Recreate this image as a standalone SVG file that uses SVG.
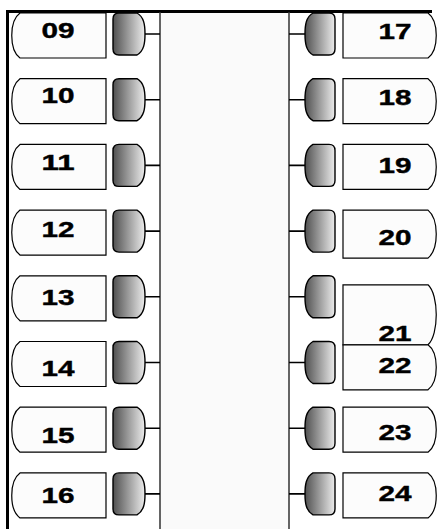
<svg xmlns="http://www.w3.org/2000/svg" width="437" height="529" viewBox="0 0 437 529">
<style>
.lbl{fill:#fcfcfc;stroke:#000;stroke-width:1.2}
.key{fill:url(#g);stroke:#000;stroke-width:1.4}
.conn{stroke:#000;stroke-width:1.6;fill:none}
.vl{stroke:#333;stroke-width:1.5;fill:none}
text{font-family:"Liberation Sans",Arial,sans-serif;font-weight:bold;font-size:21.5px;fill:#000;stroke:#000;stroke-width:0.4;text-anchor:middle}
</style>
<defs>
<linearGradient id="g" x1="0" y1="0" x2="1" y2="0">
<stop offset="0" stop-color="#505050"/>
<stop offset="1" stop-color="#ececec"/>
</linearGradient>
<path id="lb" d="M106 0H20C9 8 9 37 20 45H106Z"/>
<path id="rb" d="M343 0H428C439 8 439 37 428 45H343Z"/>
<path id="lk" d="M119 0H137C144 4 145 12 145 21C145 30 144 38 137 42H119Q113 42 113 36V6Q113 0 119 0Z"/>
<path id="rk" d="M313 0H329Q335 0 335 6V36Q335 42 329 42H313C306 38 305 30 305 21C305 12 306 4 313 0Z"/>
</defs>
<rect x="160" y="12" width="129" height="517" fill="#fafafa"/>
<g id="frame">
<path d="M7.5 529V11.5H432" stroke="#000" stroke-width="3" fill="none"/>
<path class="vl" d="M160 12V529M289 12V529"/>
</g>
<g id="connectors">
<path class="conn" d="M145 34H160M145 99.7H160M145 165.4H160M145 231.1H160M145 296.8H160M145 362.5H160M145 428.2H160M145 493.9H160"/>
<path class="conn" d="M289 34H305M289 99.7H305M289 165.4H305M289 231.1H305M289 296.8H305M289 362.5H305M289 428.2H305M289 493.9H305"/>
</g>
<g id="n09" transform="translate(0,13)"><use href="#lb" class="lbl"/><use href="#lk" class="key"/><text x="58" y="24.5" textLength="33" lengthAdjust="spacingAndGlyphs">09</text></g>
<g id="n10" transform="translate(0,78.7)"><use href="#lb" class="lbl"/><use href="#lk" class="key"/><text x="58" y="24" textLength="33" lengthAdjust="spacingAndGlyphs">10</text></g>
<g id="n11" transform="translate(0,144.4)"><use href="#lb" class="lbl"/><use href="#lk" class="key"/><text x="58" y="26" textLength="33" lengthAdjust="spacingAndGlyphs">11</text></g>
<g id="n12" transform="translate(0,210.1)"><use href="#lb" class="lbl"/><use href="#lk" class="key"/><text x="58" y="27" textLength="33" lengthAdjust="spacingAndGlyphs">12</text></g>
<g id="n13" transform="translate(0,275.8)"><use href="#lb" class="lbl"/><use href="#lk" class="key"/><text x="58" y="29" textLength="33" lengthAdjust="spacingAndGlyphs">13</text></g>
<g id="n14" transform="translate(0,341.5)"><use href="#lb" class="lbl"/><use href="#lk" class="key"/><text x="58" y="34" textLength="33" lengthAdjust="spacingAndGlyphs">14</text></g>
<g id="n15" transform="translate(0,407.2)"><use href="#lb" class="lbl"/><use href="#lk" class="key"/><text x="58" y="36" textLength="33" lengthAdjust="spacingAndGlyphs">15</text></g>
<g id="n16" transform="translate(0,472.9)"><use href="#lb" class="lbl"/><use href="#lk" class="key"/><text x="58" y="30" textLength="33" lengthAdjust="spacingAndGlyphs">16</text></g>
<g id="n17" transform="translate(0,13)"><use href="#rb" class="lbl"/><use href="#rk" class="key"/><text x="395" y="26" textLength="33" lengthAdjust="spacingAndGlyphs">17</text></g>
<g id="n18" transform="translate(0,78.7)"><use href="#rb" class="lbl"/><use href="#rk" class="key"/><text x="395" y="26.5" textLength="33" lengthAdjust="spacingAndGlyphs">18</text></g>
<g id="n19" transform="translate(0,144.4)"><use href="#rb" class="lbl"/><use href="#rk" class="key"/><text x="395" y="29" textLength="33" lengthAdjust="spacingAndGlyphs">19</text></g>
<g id="n20" transform="translate(0,210.1)"><path class="lbl" d="M343 0H428C439 9 439 39 428 48H343Z"/><use href="#rk" class="key"/><text x="395" y="35" textLength="33" lengthAdjust="spacingAndGlyphs">20</text></g>
<g id="n21" transform="translate(0,275.8)"><path class="lbl" d="M343 9H428C439 19 439 59 428 69H343Z"/><use href="#rk" class="key"/><text x="395" y="65" textLength="33" lengthAdjust="spacingAndGlyphs">21</text></g>
<g id="n22" transform="translate(0,344.8)"><use href="#rb" class="lbl"/><use href="#rk" class="key" transform="translate(0,-3.3)"/><text x="395" y="28" textLength="33" lengthAdjust="spacingAndGlyphs">22</text></g>
<g id="n23" transform="translate(0,407.2)"><use href="#rb" class="lbl"/><use href="#rk" class="key"/><text x="395" y="33" textLength="33" lengthAdjust="spacingAndGlyphs">23</text></g>
<g id="n24" transform="translate(0,472.9)"><use href="#rb" class="lbl"/><use href="#rk" class="key"/><text x="395" y="28" textLength="33" lengthAdjust="spacingAndGlyphs">24</text></g>
</svg>
